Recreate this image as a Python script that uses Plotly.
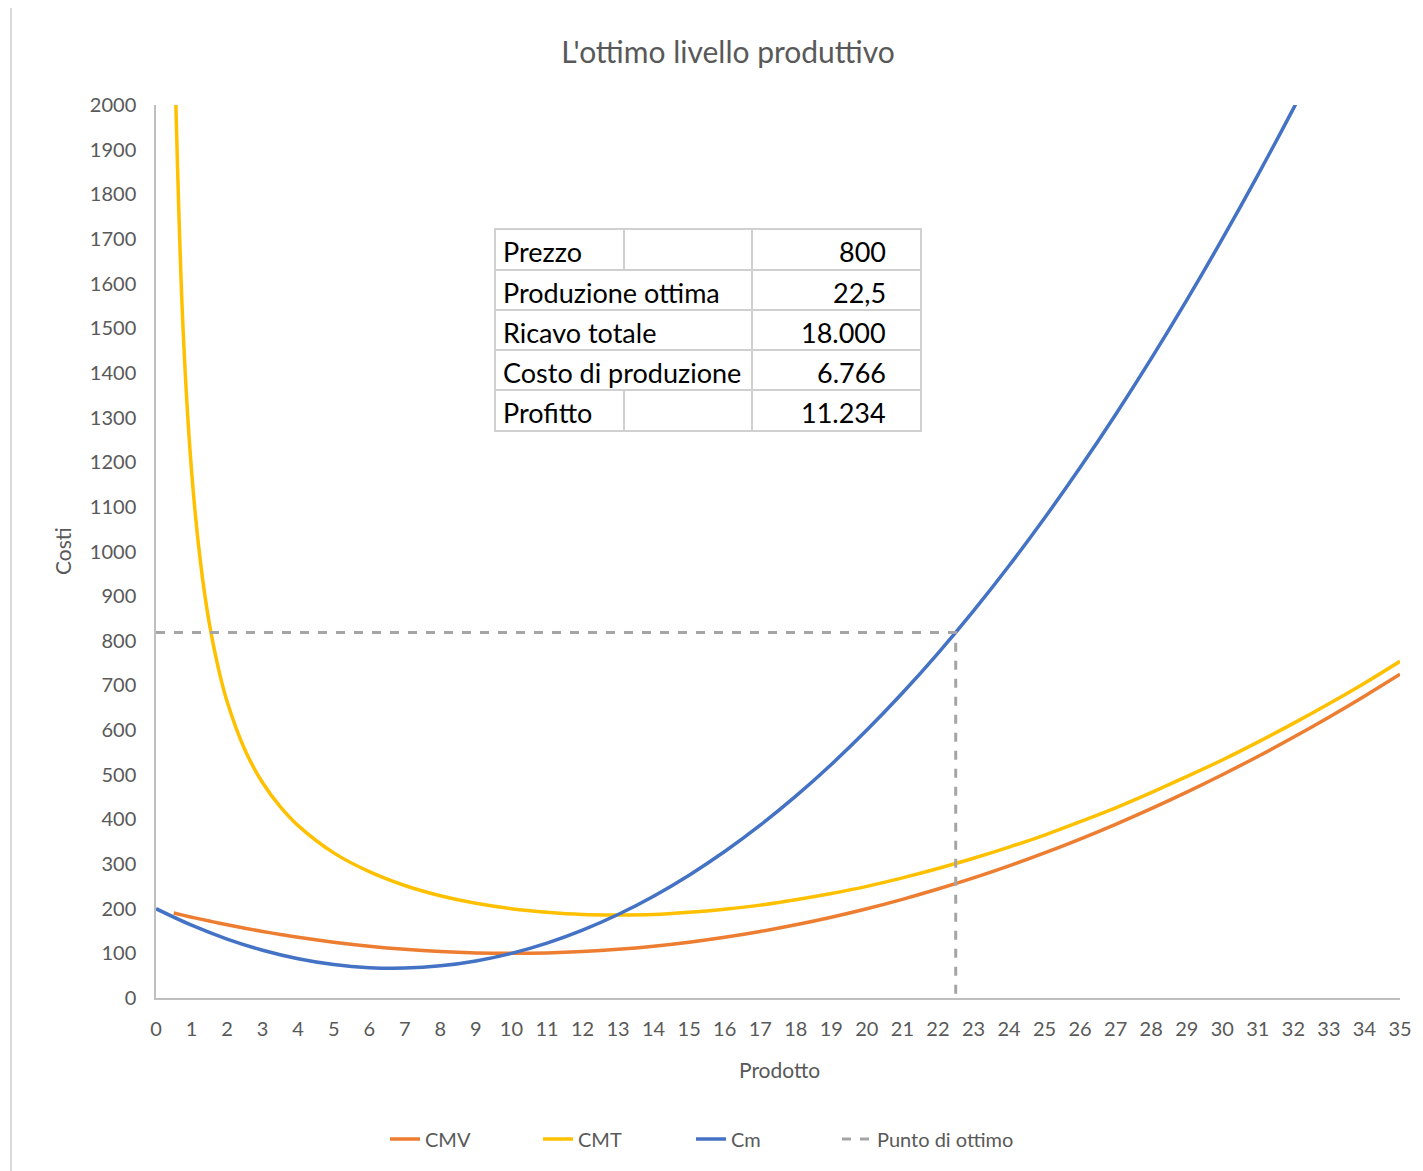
import plotly.graph_objects as go

# quantities (Prodotto) for the average cost curves
q_avg = [0.5, 0.75, 1, 1.25, 1.5, 1.75, 2, 2.5, 3, 3.5, 4, 5, 6, 7, 8, 9, 10,
         11, 12, 13, 14, 15, 16, 17, 18, 19, 20, 21, 22, 23, 24, 25, 26, 27,
         28, 29, 30, 31, 32, 33, 34, 35]
cmv = [190.3, 185.6, 181, 176.6, 172.3, 168.1, 164, 156.3, 149, 142.3, 136, 125,
       116, 109, 104, 101, 100, 101, 104, 109, 116, 125, 136, 149, 164, 181, 200,
       221, 244, 269, 296, 325, 356, 389, 424, 461, 500, 541, 584, 629, 676, 725]
cmt = [2190, 1519, 1181, 977, 839, 740, 664, 556, 482, 428, 386, 325,
       283, 252, 229, 212, 200, 192, 187, 186, 187, 192, 199, 208, 220, 234, 250,
       269, 290, 313, 338, 365, 395, 426, 460, 496, 533, 573, 615, 659, 705, 754]

# marginal cost
q_cm = list(range(0, 34))
cm = [200, 163, 132, 107, 88, 75, 68, 67, 72, 83, 100, 123, 152, 187, 228, 275,
      328, 387, 452, 523, 600, 683, 772, 867, 968, 1075, 1188, 1307, 1432, 1563,
      1700, 1843, 1992, 2147]

# optimum point (price = Cm)
q_opt = [0, 22.5, 22.5]
c_opt = [818.75, 818.75, 0]

# table
table_rows = [("Prezzo", "800", True), ("Produzione ottima", "22,5", False),
              ("Ricavo totale", "18.000", False), ("Costo di produzione", "6.766", False),
              ("Profitto", "11.234", True)]

FONT = "Lato, 'Open Sans', sans-serif"
GREY = "#595959"

fig = go.Figure()
fig.add_trace(go.Scatter(x=q_avg, y=cmv, name="CMV", mode="lines", line_shape="spline",
                         line=dict(color="#ED7D31", width=3.5)))
fig.add_trace(go.Scatter(x=q_avg, y=cmt, name="CMT", mode="lines", line_shape="spline",
                         line=dict(color="#FFC000", width=3.5)))
fig.add_trace(go.Scatter(x=q_cm, y=cm, name="Cm", mode="lines", line_shape="spline",
                         line=dict(color="#4472C4", width=3.5)))
fig.add_trace(go.Scatter(x=q_opt, y=c_opt, name="Punto di ottimo", mode="lines",
                         line=dict(color="#A5A5A5", width=3, dash="dash"),
                         legend="legend2"))

# page has an 8px body margin; work in page pixels and shift
OFF = 8
W, H = 1423 - OFF, 1171 - OFF
# plot area in page pixels
L, R, T, B = 156, 1400, 105, 998
def px(x):
    return (x - L) / (R - L)
def py(y):
    return (B - y) / (B - T)

shapes = []
# chart outer border
shapes.append(dict(type="rect", xref="paper", yref="paper", x0=px(11), x1=px(1440),
                   y0=py(1190), y1=py(6), line=dict(color="#D9D9D9", width=2)))

# table grid
cols = [495, 624, 752, 921]
rows = [229, 270, 310, 350, 390, 431]
annotations = []
lc = "#D0D0D0"
shapes.append(dict(type="rect", xref="paper", yref="paper", x0=px(cols[0]), x1=px(cols[3]),
                   y0=py(rows[-1]), y1=py(rows[0]), line=dict(color=lc, width=2),
                   fillcolor="white", layer="above"))
for r in rows[1:-1]:
    shapes.append(dict(type="line", xref="paper", yref="paper", x0=px(cols[0]), x1=px(cols[3]),
                       y0=py(r), y1=py(r), line=dict(color=lc, width=2)))
for i, (lab, val, split) in enumerate(table_rows):
    y0, y1 = rows[i], rows[i + 1]
    shapes.append(dict(type="line", xref="paper", yref="paper", x0=px(cols[2]), x1=px(cols[2]),
                       y0=py(y0), y1=py(y1), line=dict(color=lc, width=2)))
    if split:
        shapes.append(dict(type="line", xref="paper", yref="paper", x0=px(cols[1]), x1=px(cols[1]),
                           y0=py(y0), y1=py(y1), line=dict(color=lc, width=2)))
    ym = py((y0 + y1) / 2 + 2)
    annotations.append(dict(x=px(501), y=ym, xref="paper", yref="paper", text=lab,
                            showarrow=False, xanchor="left", yanchor="middle",
                            font=dict(size=27, color="black", family=FONT)))
    annotations.append(dict(x=px(888), y=ym, xref="paper", yref="paper", text=val,
                            showarrow=False, xanchor="right", yanchor="middle",
                            font=dict(size=27, color="black", family=FONT)))

# axis titles
annotations.append(dict(x=px(62), y=py(551), xref="paper", yref="paper", text="Costi",
                        textangle=-90, showarrow=False, xanchor="center", yanchor="middle",
                        font=dict(size=21, color=GREY, family=FONT)))
annotations.append(dict(x=px(779), y=py(1069), xref="paper", yref="paper", text="Prodotto",
                        showarrow=False, xanchor="center", yanchor="middle",
                        font=dict(size=21, color=GREY, family=FONT)))

fig.update_layout(
    width=W, height=H,
    margin=dict(l=L - OFF, r=1423 - R, t=T - OFF, b=1171 - B),
    paper_bgcolor="white", plot_bgcolor="white",
    font=dict(family=FONT, color=GREY, size=20),
    title=dict(text="L'ottimo livello produttivo", x=(728 - OFF) / W,
               xanchor="center", y=1 - (52 - OFF) / H, yanchor="middle",
               font=dict(size=30, color=GREY, family=FONT)),
    xaxis=dict(range=[0, 35], dtick=1, tick0=0, showgrid=False, zeroline=False,
               showline=True, linecolor="#BFBFBF", linewidth=1.5,
               ticks="outside", ticklen=12, tickcolor="white",
               tickfont=dict(size=20, color=GREY)),
    yaxis=dict(range=[0, 2000], dtick=100, tick0=0, showgrid=False, zeroline=False,
               showline=True, linecolor="#BFBFBF", linewidth=1.5,
               ticks="outside", ticklen=14, tickcolor="white",
               tickfont=dict(size=20, color=GREY)),
    legend=dict(orientation="h", x=px(385), xanchor="left", y=py(1139), yanchor="middle",
                font=dict(size=20, color=GREY), entrywidth=108, entrywidthmode="pixels"),
    legend2=dict(orientation="h", x=px(837), xanchor="left", y=py(1139), yanchor="middle",
                 font=dict(size=20, color=GREY)),
    shapes=shapes,
    annotations=annotations,
)

fig.write_html("out.html")
